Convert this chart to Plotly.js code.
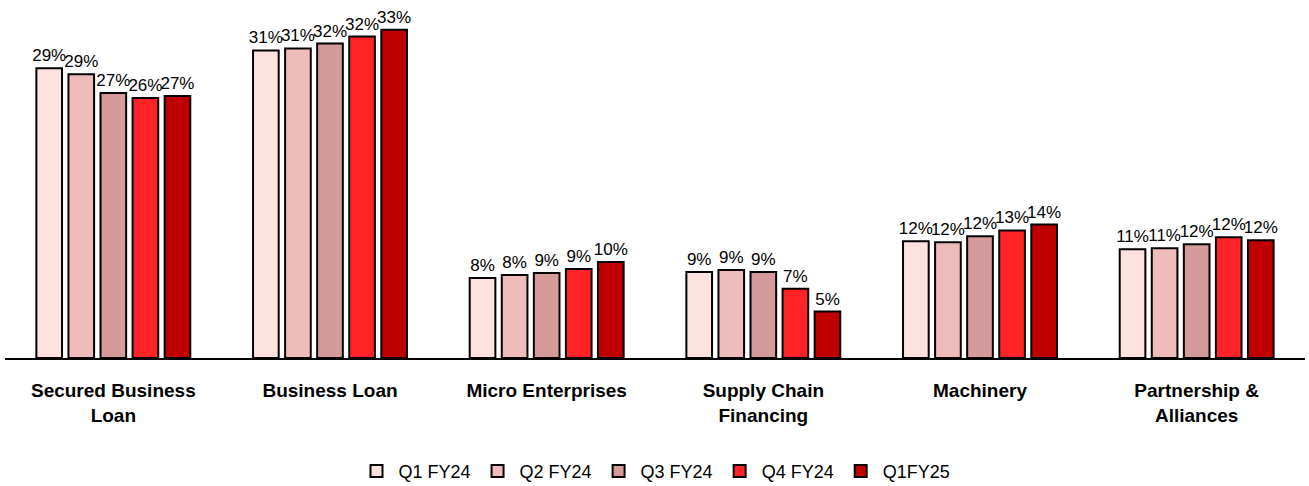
<!DOCTYPE html>
<html><head><meta charset="utf-8">
<script src="https://cdn.plot.ly/plotly-3.0.1.min.js"></script>
<style>html,body{margin:0;padding:0;background:#fff}#chart{width:1309px;height:486px}</style>
</head><body><div id="chart"></div>
<script>
const categories = ["Secured Business<br>Loan", "Business Loan", "Micro Enterprises", "Supply Chain<br>Financing", "Machinery", "Partnership &<br>Alliances"];
const seriesNames = ["Q1 FY24", "Q2 FY24", "Q3 FY24", "Q4 FY24", "Q1FY25"];
const q1fy24 = [29.3, 31.1, 8.1, 8.7, 11.8, 11.0];
const q2fy24 = [28.7, 31.3, 8.4, 8.9, 11.7, 11.1];
const q3fy24 = [26.8, 31.8, 8.6, 8.7, 12.3, 11.5];
const q4fy24 = [26.3, 32.5, 9.0, 7.0, 12.9, 12.2];
const q1fy25 = [26.5, 33.2, 9.7, 4.7, 13.5, 11.9];
const labelsQ1 = ["29%", "31%", "8%", "9%", "12%", "11%"];
const labelsQ2 = ["29%", "31%", "8%", "9%", "12%", "11%"];
const labelsQ3 = ["27%", "32%", "9%", "9%", "12%", "12%"];
const labelsQ4 = ["26%", "32%", "9%", "7%", "13%", "12%"];
const labelsQ5 = ["27%", "33%", "10%", "5%", "14%", "12%"];
const colors = ["#FDE2E0", "#EFBCBC", "#D59A9A", "#FF2328", "#C00000"];

const values = [q1fy24, q2fy24, q3fy24, q4fy24, q1fy25];
const labels = [labelsQ1, labelsQ2, labelsQ3, labelsQ4, labelsQ5];
const FONT = "Liberation Sans, Arial, sans-serif";

const data = values.map((v, i) => ({
  type: "bar",
  name: seriesNames[i],
  x: categories,
  y: v,
  text: labels[i],
  textposition: "outside",
  constraintext: "none",
  cliponaxis: false,
  textfont: {family: FONT, size: 17, color: "#000"},
  marker: {color: colors[i], line: {color: "#000", width: 2}},
  hoverinfo: "none"
}));

const layout = {
  width: 1309, height: 486,
  margin: {l: 5, r: 4, t: 2, b: 128, autoexpand: false},
  paper_bgcolor: "#fff", plot_bgcolor: "#fff",
  barmode: "group",
  bargap: 0.26,
  bargroupgap: 0.2,
  showlegend: true,
  legend: {orientation: "h", x: 0.5, xanchor: "center", yref: "container", y: 0.03, yanchor: "middle",
    font: {family: FONT, size: 18, color: "#000"}, itemwidth: 34, traceorder: "normal"},
  xaxis: {
    showline: true, linecolor: "#000", linewidth: 2,
    ticks: "", showgrid: false, zeroline: false, automargin: false,
    ticklabelstandoff: 14,
    tickfont: {family: FONT, size: 19, color: "#000", weight: "bold"}
  },
  yaxis: {range: [0, 36], visible: false, showgrid: false, zeroline: false},
  font: {family: FONT}
};

Plotly.newPlot("chart", data, layout, {displayModeBar: false, staticPlot: true});
</script></body></html>
